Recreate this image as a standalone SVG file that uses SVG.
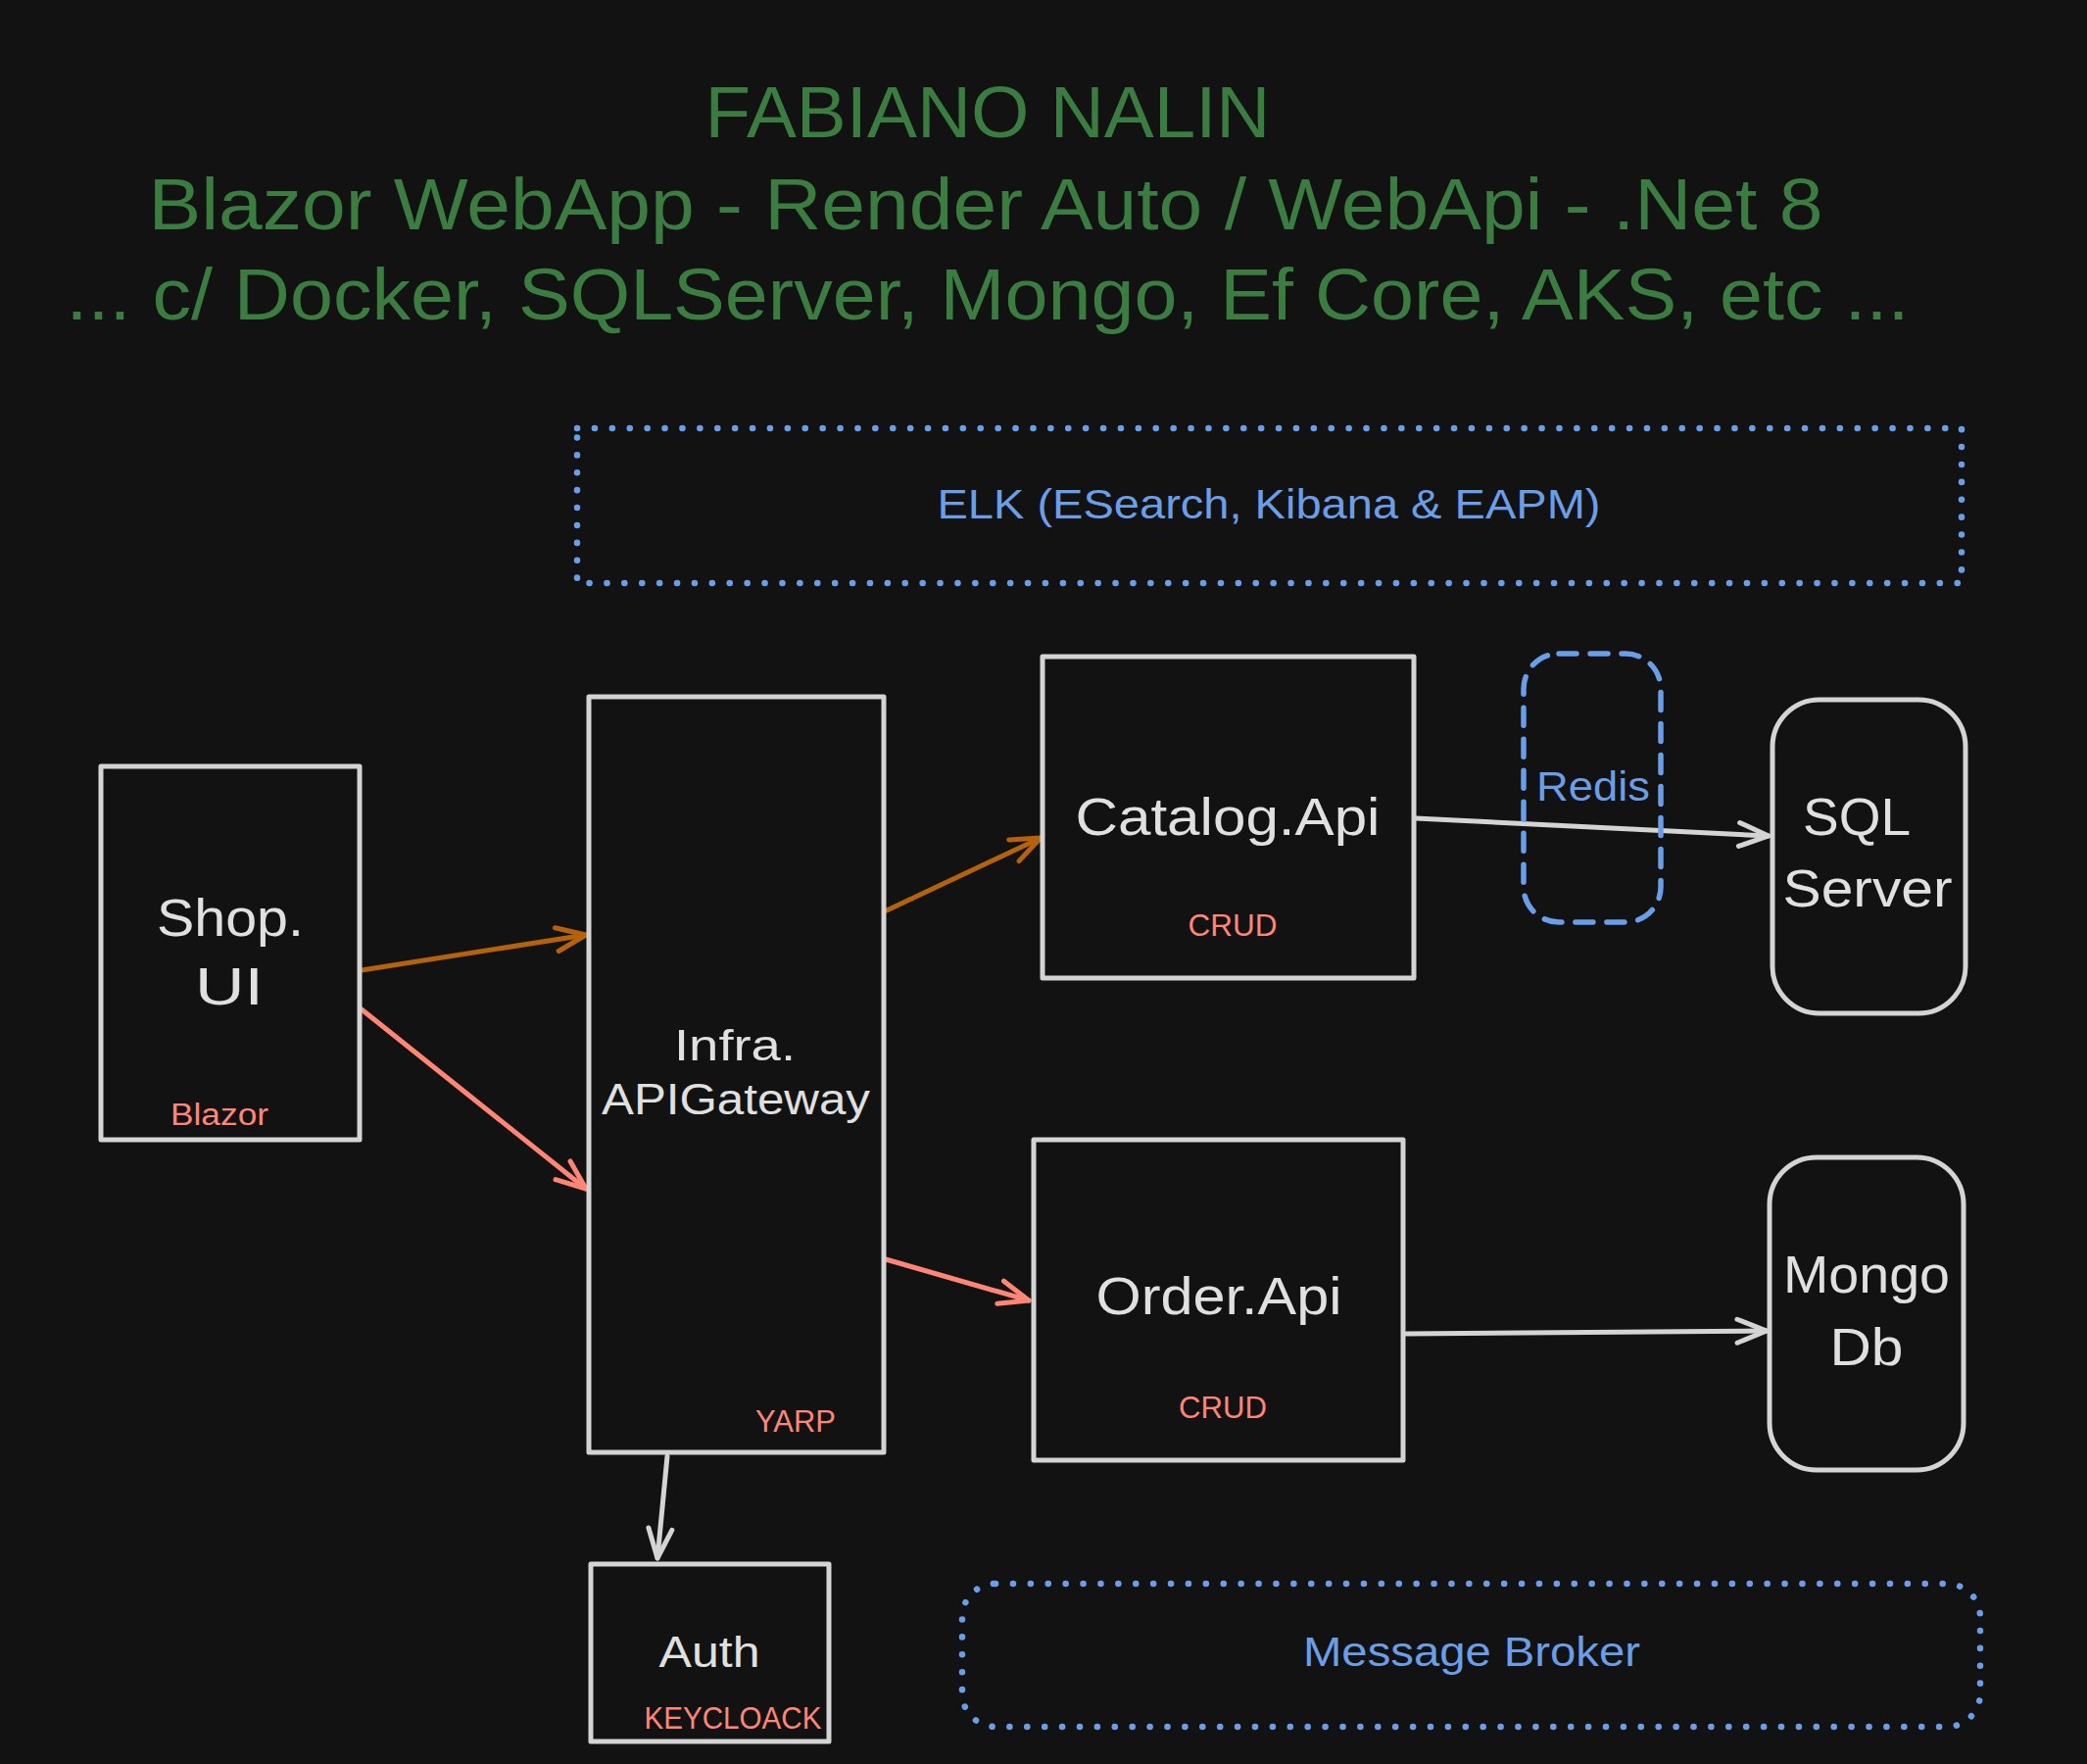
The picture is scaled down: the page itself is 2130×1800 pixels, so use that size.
<svg xmlns="http://www.w3.org/2000/svg" width="2130" height="1800" viewBox="0 0 2130 1800">
<defs>
<style>
.bg{fill:#121212}
.box{fill:#121212;stroke:#d4d4d4;stroke-width:5;stroke-linejoin:round}
.dot{fill:none;stroke:#6a9ee8;stroke-width:6.5;stroke-linecap:round;stroke-dasharray:0.1 17.8}
.dash{fill:none;stroke:#6a9ee8;stroke-width:5.5;stroke-linecap:round;stroke-dasharray:18 14}
.t{font-family:"Liberation Sans","DejaVu Sans",sans-serif;text-anchor:middle}
.title{fill:#3b7d41;font-size:74px}
.main{fill:#e0e0e0;font-size:54px}
.mid{fill:#e0e0e0;font-size:45px}
.sub{fill:#ff8676;font-size:31px}
.blue{fill:#6a9ee8;font-size:42px}
.c{fill:none;stroke-width:5;stroke-linecap:round}
.or{stroke:#b5620c}
.sa{stroke:#ff8676}
.wh{stroke:#d4d4d4}
</style>
<marker id="mOr" viewBox="0 0 36 36" refX="33" refY="18" markerWidth="36" markerHeight="36" markerUnits="userSpaceOnUse" orient="auto"><path d="M3,6 L33,18 L3,30" fill="none" stroke="#b5620c" stroke-width="5" stroke-linecap="round" stroke-linejoin="round"/></marker>
<marker id="mSa" viewBox="0 0 36 36" refX="33" refY="18" markerWidth="36" markerHeight="36" markerUnits="userSpaceOnUse" orient="auto"><path d="M3,6 L33,18 L3,30" fill="none" stroke="#ff8676" stroke-width="5" stroke-linecap="round" stroke-linejoin="round"/></marker>
<marker id="mWh" viewBox="0 0 36 36" refX="33" refY="18" markerWidth="36" markerHeight="36" markerUnits="userSpaceOnUse" orient="auto"><path d="M3,6 L33,18 L3,30" fill="none" stroke="#d4d4d4" stroke-width="5" stroke-linecap="round" stroke-linejoin="round"/></marker>
</defs>
<rect class="bg" x="0" y="0" width="2130" height="1800"/>

<g id="title">
<text class="t title" x="1008" y="140" textLength="577" lengthAdjust="spacingAndGlyphs">FABIANO NALIN</text>
<text class="t title" x="1006" y="234" textLength="1709" lengthAdjust="spacingAndGlyphs">Blazor WebApp - Render Auto / WebApi - .Net 8</text>
<text class="t title" x="1008" y="326" textLength="1881" lengthAdjust="spacingAndGlyphs">... c/ Docker, SQLServer, Mongo, Ef Core, AKS, etc ...</text>
</g>

<g id="elk">
<rect class="dot" x="589" y="437" width="1413" height="158"/>
<text class="t blue" x="1295" y="529" textLength="677" lengthAdjust="spacingAndGlyphs">ELK (ESearch, Kibana &amp; EAPM)</text>
</g>

<g id="connectors">
<line class="c or" x1="369" y1="990" x2="598" y2="954" marker-end="url(#mOr)"/>
<line class="c sa" x1="369" y1="1030" x2="598" y2="1213" marker-end="url(#mSa)"/>
<line class="c or" x1="905" y1="929" x2="1062" y2="855" marker-end="url(#mOr)"/>
<line class="c sa" x1="904" y1="1285" x2="1050" y2="1327" marker-end="url(#mSa)"/>
<line class="c wh" x1="1445" y1="835" x2="1805" y2="853" marker-end="url(#mWh)"/>
<line class="c wh" x1="1435" y1="1361" x2="1803" y2="1358" marker-end="url(#mWh)"/>
<line class="c wh" x1="681" y1="1486" x2="671" y2="1590" marker-end="url(#mWh)"/>
</g>

<g id="shop-ui">
<rect class="box" x="103" y="782" width="264" height="381"/>
<text class="t main" x="235" y="955" textLength="150" lengthAdjust="spacingAndGlyphs">Shop.</text>
<text class="t main" x="234" y="1025" textLength="70" lengthAdjust="spacingAndGlyphs">UI</text>
<text class="t sub" x="224" y="1148" textLength="100" lengthAdjust="spacingAndGlyphs">Blazor</text>
</g>

<g id="api-gateway">
<rect class="box" x="601" y="711" width="301" height="771"/>
<text class="t mid" x="750" y="1082" textLength="124" lengthAdjust="spacingAndGlyphs">Infra.</text>
<text class="t mid" x="751" y="1137" textLength="274" lengthAdjust="spacingAndGlyphs">APIGateway</text>
<text class="t sub" x="812" y="1461" textLength="82" lengthAdjust="spacingAndGlyphs">YARP</text>
</g>

<g id="catalog-api">
<rect class="box" x="1064" y="670" width="379" height="328"/>
<text class="t main" x="1253" y="852" textLength="311" lengthAdjust="spacingAndGlyphs">Catalog.Api</text>
<text class="t sub" x="1258" y="955" textLength="91" lengthAdjust="spacingAndGlyphs">CRUD</text>
</g>

<g id="redis">
<rect class="dash" x="1555" y="667" width="140" height="274" rx="36" ry="36"/>
<text class="t blue" x="1626" y="817" textLength="116" lengthAdjust="spacingAndGlyphs">Redis</text>
</g>

<g id="sql-server">
<rect class="box" x="1809" y="714" width="197" height="320" rx="48" ry="48"/>
<text class="t main" x="1895" y="852" textLength="110" lengthAdjust="spacingAndGlyphs">SQL</text>
<text class="t main" x="1906" y="925" textLength="173" lengthAdjust="spacingAndGlyphs">Server</text>
</g>

<g id="order-api">
<rect class="box" x="1055" y="1163" width="377" height="327"/>
<text class="t main" x="1244" y="1341" textLength="251" lengthAdjust="spacingAndGlyphs">Order.Api</text>
<text class="t sub" x="1248" y="1447" textLength="90" lengthAdjust="spacingAndGlyphs">CRUD</text>
</g>

<g id="mongo-db">
<rect class="box" x="1806" y="1181" width="198" height="319" rx="48" ry="48"/>
<text class="t main" x="1905" y="1319" textLength="170" lengthAdjust="spacingAndGlyphs">Mongo</text>
<text class="t main" x="1905" y="1393" textLength="75" lengthAdjust="spacingAndGlyphs">Db</text>
</g>

<g id="auth">
<rect class="box" x="603" y="1596" width="243" height="181"/>
<text class="t mid" x="724" y="1701" textLength="103" lengthAdjust="spacingAndGlyphs">Auth</text>
<text class="t sub" x="748" y="1764" textLength="181" lengthAdjust="spacingAndGlyphs">KEYCLOACK</text>
</g>

<g id="message-broker">
<rect class="dot" x="982" y="1616" width="1039" height="146" rx="34" ry="34"/>
<text class="t blue" x="1502" y="1700" textLength="344" lengthAdjust="spacingAndGlyphs">Message Broker</text>
</g>
</svg>
